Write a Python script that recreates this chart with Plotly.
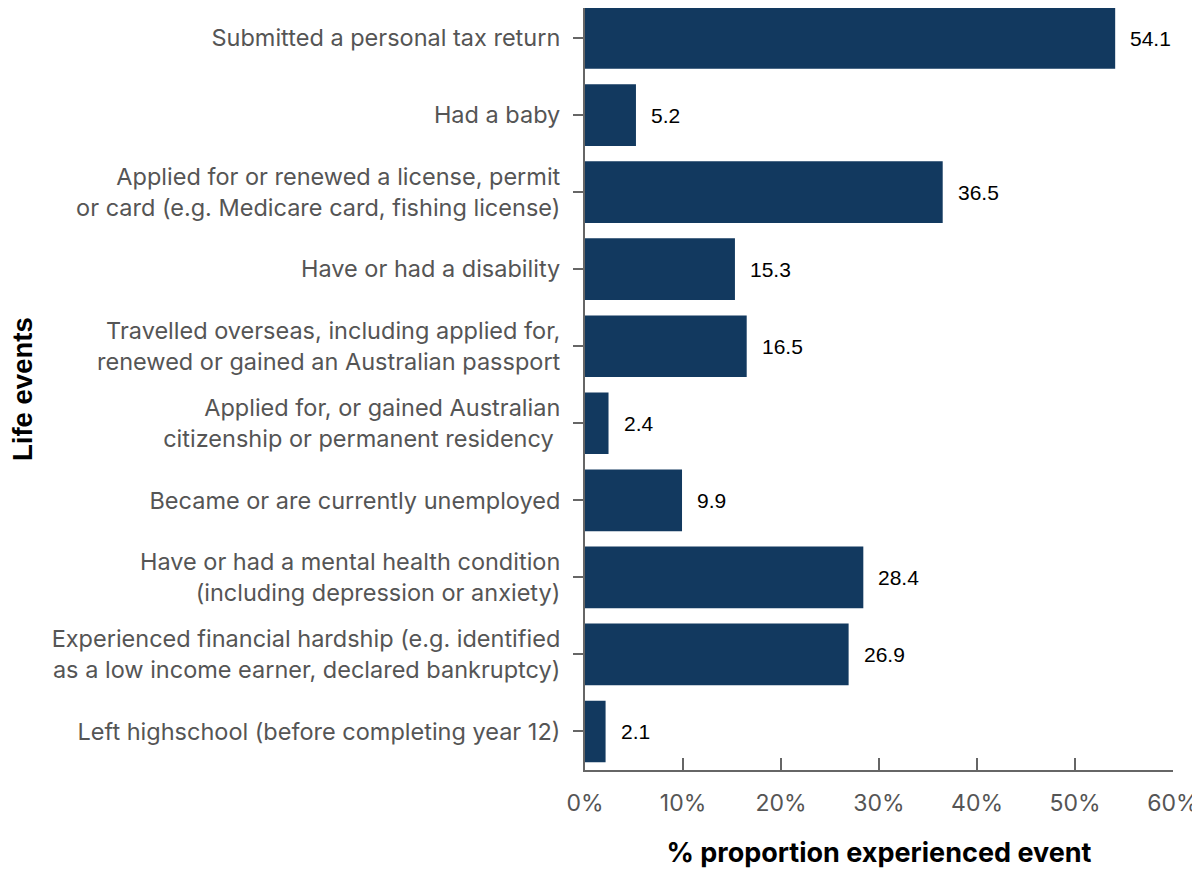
import plotly.graph_objects as go

# Survey: life events experienced in the past year
categories = [
    "Submitted a personal tax return",
    "Had a baby",
    "Applied for or renewed a license, permit<br>or card (e.g. Medicare card, fishing license)",
    "Have or had a disability",
    "Travelled overseas, including applied for,<br>renewed or gained an Australian passport",
    "Applied for, or gained Australian<br>citizenship or permanent residency ",
    "Became or are currently unemployed",
    "Have or had a mental health condition<br>(including depression or anxiety)",
    "Experienced financial hardship (e.g. identified<br>as a low income earner, declared bankruptcy)",
    "Left highschool (before completing year 12)",
]
values = [54.1, 5.2, 36.5, 15.3, 16.5, 2.4, 9.9, 28.4, 26.9, 2.1]
tick_vals = [0, 10, 20, 30, 40, 50, 60]
tick_text = ["0%", "10%", "20%", "30%", "40%", "50%", "60%"]

bar_color = "#12395f"
grey = "#555555"
axis_grey = "#666666"

fig = go.Figure(go.Bar(
    x=values,
    y=categories,
    orientation="h",
    marker=dict(color=bar_color, line=dict(width=0)),
    width=0.8,
    hoverinfo="x+y",
))

# value labels beside each bar
for cat, val in zip(categories, values):
    fig.add_annotation(
        x=val, y=cat, text=f"{val:.1f}", showarrow=False,
        xanchor="left", xshift=13,
        font=dict(family="Liberation Sans, Arial", size=21, color="black"),
    )

# page body has an 8px margin, so the figure is sized 8px smaller
fig.update_layout(
    width=1192, height=879,
    margin=dict(l=577, r=27, t=0, b=117),
    plot_bgcolor="white", paper_bgcolor="white",
    showlegend=False,
    font=dict(family="Inter, Roboto, sans-serif", color=grey, size=23),
    xaxis=dict(
        range=[0, 60], tickvals=tick_vals, ticktext=tick_text,
        showgrid=False, zeroline=False,
        showline=True, linecolor=axis_grey, linewidth=2,
        ticks="inside", ticklen=12, tickwidth=2, tickcolor=axis_grey,
        tickfont=dict(size=23, color=grey),
        ticklabelstandoff=11,
        title=dict(text="<b>% proportion experienced event</b>",
                   font=dict(size=27, color="black"), standoff=28),
    ),
    yaxis=dict(
        range=[9.5, -0.39],
        showgrid=False, zeroline=False,
        showline=True, linecolor=axis_grey, linewidth=2,
        ticks="outside", ticklen=10, tickwidth=2, tickcolor=axis_grey,
        tickfont=dict(size=23.5, color=grey),
        ticklabelstandoff=8,
    ),
)

fig.add_annotation(
    text="<b>Life events</b>", textangle=-90,
    xref="paper", yref="paper", x=-0.9575, y=0.5,
    xanchor="center", yanchor="middle", showarrow=False,
    font=dict(family="Liberation Sans, Arial", size=27.5, color="black"),
)

fig.write_html("out.html")
